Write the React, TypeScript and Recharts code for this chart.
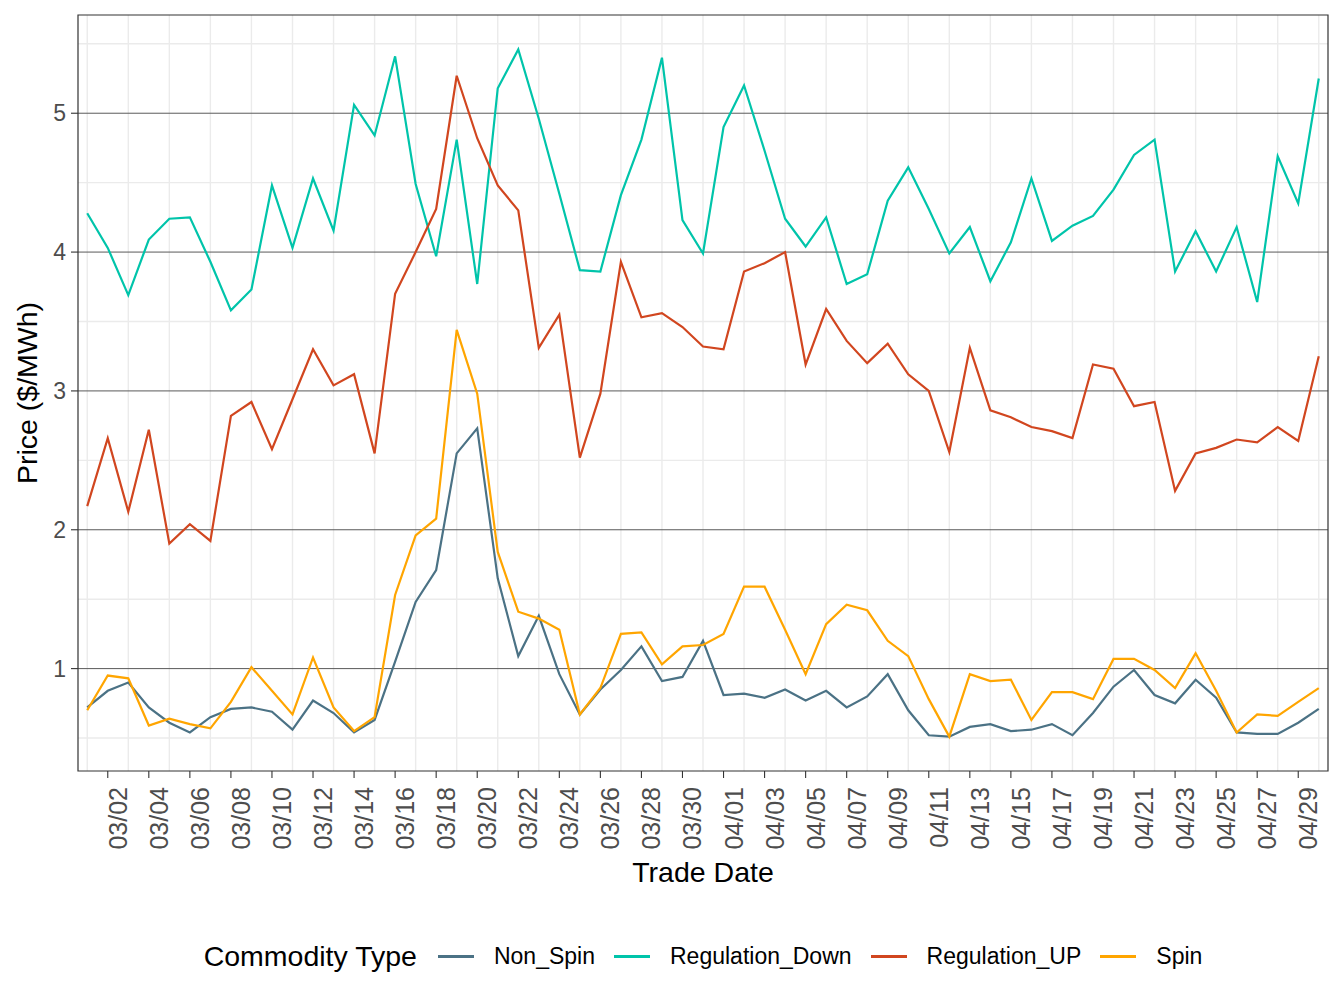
import React from 'react';
import { LineChart, Line, XAxis, YAxis, CartesianGrid, ReferenceArea, Label } from 'recharts';

// Trade dates, 1 March to 30 April
const tradeDates = [
  '03/01', '03/02', '03/03', '03/04', '03/05', '03/06', '03/07', '03/08', '03/09', '03/10',
  '03/11', '03/12', '03/13', '03/14', '03/15', '03/16', '03/17', '03/18', '03/19', '03/20',
  '03/21', '03/22', '03/23', '03/24', '03/25', '03/26', '03/27', '03/28', '03/29', '03/30',
  '03/31', '04/01', '04/02', '04/03', '04/04', '04/05', '04/06', '04/07', '04/08', '04/09',
  '04/10', '04/11', '04/12', '04/13', '04/14', '04/15', '04/16', '04/17', '04/18', '04/19',
  '04/20', '04/21', '04/22', '04/23', '04/24', '04/25', '04/26', '04/27', '04/28', '04/29',
  '04/30',
];

// Daily prices ($/MWh) per commodity type
const nonSpin = [
  0.72, 0.84, 0.90, 0.72, 0.61, 0.54, 0.65, 0.71, 0.72, 0.69,
  0.56, 0.77, 0.68, 0.54, 0.63, 1.05, 1.48, 1.71, 2.55, 2.73,
  1.65, 1.09, 1.38, 0.96, 0.67, 0.85, 0.99, 1.16, 0.91, 0.94,
  1.20, 0.81, 0.82, 0.79, 0.85, 0.77, 0.84, 0.72, 0.80, 0.96,
  0.70, 0.52, 0.51, 0.58, 0.60, 0.55, 0.56, 0.60, 0.52, 0.68,
  0.87, 0.99, 0.81, 0.75, 0.92, 0.79, 0.54, 0.53, 0.53, 0.61,
  0.71,
];

const regulationDown = [
  4.28, 4.03, 3.69, 4.09, 4.24, 4.25, 3.93, 3.58, 3.73, 4.48,
  4.03, 4.53, 4.155, 5.06, 4.84, 5.41, 4.49, 3.97, 4.81, 3.77,
  5.18, 5.46, 4.96, 4.42, 3.87, 3.86, 4.41, 4.81, 5.40, 4.23,
  3.99, 4.90, 5.20, 4.73, 4.24, 4.04, 4.25, 3.77, 3.84, 4.37,
  4.61, 4.31, 3.99, 4.18, 3.79, 4.07, 4.53, 4.08, 4.19, 4.26,
  4.45, 4.70, 4.81, 3.86, 4.15, 3.86, 4.18, 3.64, 4.69, 4.35,
  5.25,
];

const regulationUp = [
  2.17, 2.66, 2.13, 2.72, 1.90, 2.04, 1.92, 2.82, 2.92, 2.58,
  2.94, 3.30, 3.04, 3.12, 2.55, 3.70, 4.00, 4.31, 5.27, 4.82,
  4.48, 4.30, 3.31, 3.55, 2.52, 2.98, 3.93, 3.53, 3.56, 3.46,
  3.32, 3.30, 3.86, 3.92, 4.00, 3.19, 3.59, 3.36, 3.20, 3.34,
  3.12, 3.00, 2.56, 3.31, 2.86, 2.81, 2.74, 2.71, 2.66, 3.19,
  3.16, 2.89, 2.92, 2.28, 2.55, 2.59, 2.65, 2.63, 2.74, 2.64,
  3.25,
];

const spin = [
  0.70, 0.95, 0.93, 0.59, 0.64, 0.60, 0.57, 0.76, 1.01, 0.84,
  0.67, 1.08, 0.72, 0.55, 0.65, 1.53, 1.96, 2.08, 3.44, 2.98,
  1.84, 1.41, 1.36, 1.28, 0.67, 0.86, 1.25, 1.26, 1.03, 1.16,
  1.17, 1.25, 1.59, 1.59, 1.28, 0.96, 1.32, 1.46, 1.42, 1.20,
  1.09, 0.78, 0.51, 0.96, 0.91, 0.92, 0.63, 0.83, 0.83, 0.78,
  1.07, 1.07, 0.99, 0.86, 1.11, 0.84, 0.54, 0.67, 0.66, 0.76,
  0.86,
];

const seriesNames = ['Non_Spin', 'Regulation_Down', 'Regulation_UP', 'Spin'];
const seriesValues = [nonSpin, regulationDown, regulationUp, spin];
const seriesColors = ['#4B7285', '#00C4AA', '#D1461F', '#FFA500'];

const yTicks = [1, 2, 3, 4, 5];
const yMinor = [0.5, 1.5, 2.5, 3.5, 4.5, 5.5];

const rows = tradeDates.map((d, i) => {
  const row: Record<string, number | string> = { idx: i, date: d };
  seriesNames.forEach((name, s) => {
    row[name] = seriesValues[s][i];
  });
  return row;
});

// labelled ticks every other day starting 03/02; light grid on the days between
const xTicks = tradeDates.map((_, i) => i).filter((i) => i % 2 === 1);
const xMinor = tradeDates.map((_, i) => i).filter((i) => i % 2 === 0);

const X_DOMAIN: [number, number] = [-0.45, tradeDates.length - 1 + 0.45];
const Y_DOMAIN: [number, number] = [0.2625, 5.7075];

const FONT = '"Liberation Sans", Arial, Helvetica, sans-serif';
const W = 1344;
const H = 1008;

// vertical date label, hanging to the right of its tick
const DateTick = (props: any) => {
  const { x, y, payload } = props;
  return (
    <text
      transform={`translate(${x + 10},${y}) rotate(-90)`}
      textAnchor="end"
      dy="0.36em"
      fill="#4d4d4d"
      fontSize={25}
      fontFamily={FONT}
    >
      {tradeDates[payload.value]}
    </text>
  );
};

const XTitle = (props: any) => {
  const vb = props.viewBox || {};
  return (
    <text
      x={vb.x + vb.width / 2}
      y={vb.y + 101}
      textAnchor="middle"
      dominantBaseline="central"
      fontSize={28.5}
      fontFamily={FONT}
      fill="#000"
    >
      Trade Date
    </text>
  );
};

const YTitle = (props: any) => {
  const vb = props.viewBox || {};
  const cx = 27;
  const cy = vb.y + vb.height / 2;
  return (
    <text
      transform={`translate(${cx},${cy}) rotate(-90)`}
      textAnchor="middle"
      dominantBaseline="central"
      fontSize={28.5}
      fontFamily={FONT}
      fill="#000"
    >
      Price ($/MWh)
    </text>
  );
};

export default function App() {
  return (
    <div style={{ position: 'absolute', left: 0, top: 0, width: W, height: H, background: '#fff', fontFamily: FONT }}>
      <LineChart width={W} height={H} data={rows} margin={{ top: 15, right: 16, bottom: 100, left: 0 }}>
        <CartesianGrid horizontal={false} verticalValues={xMinor} stroke="#ebebeb" strokeWidth={1.4} />
        <CartesianGrid vertical={false} horizontalValues={yMinor} stroke="#ebebeb" strokeWidth={1.4} />
        <CartesianGrid vertical={false} horizontalValues={yTicks} stroke="#5a5a5a" strokeWidth={1} />
        <XAxis
          dataKey="idx"
          type="number"
          domain={X_DOMAIN}
          allowDataOverflow
          ticks={xTicks}
          interval={0}
          height={137}
          tick={<DateTick />}
          tickSize={7}
          tickMargin={9}
          tickLine={{ stroke: '#333', strokeWidth: 1.1 }}
          axisLine={false}
        >
          <Label content={<XTitle />} />
        </XAxis>
        <YAxis
          type="number"
          domain={Y_DOMAIN}
          allowDataOverflow
          ticks={yTicks}
          width={78}
          tickSize={7}
          tickMargin={5}
          tick={{ fill: '#4d4d4d', fontSize: 23, fontFamily: FONT }}
          tickLine={{ stroke: '#333', strokeWidth: 1.1 }}
          axisLine={false}
        >
          <Label content={<YTitle />} />
        </YAxis>
        {seriesNames.map((name, s) => (
          <Line
            key={name}
            type="linear"
            dataKey={name}
            stroke={seriesColors[s]}
            strokeWidth={2.2}
            dot={false}
            activeDot={false}
            isAnimationActive={false}
          />
        ))}
        <ReferenceArea
          x1={X_DOMAIN[0]}
          x2={X_DOMAIN[1]}
          y1={Y_DOMAIN[0]}
          y2={Y_DOMAIN[1]}
          fill="none"
          stroke="#333"
          strokeWidth={1.2}
          ifOverflow="visible"
        />
      </LineChart>
      <div
        style={{
          position: 'absolute',
          left: 78,
          width: 1250,
          top: 936,
          height: 40,
          display: 'flex',
          alignItems: 'center',
          justifyContent: 'center',
          fontFamily: FONT,
          whiteSpace: 'nowrap',
        }}
      >
        <span style={{ fontSize: 28.5, color: '#000', marginRight: 21 }}>Commodity Type</span>
        {seriesNames.map((name, s) => (
          <span key={name} style={{ display: 'flex', alignItems: 'center', marginRight: s < seriesNames.length - 1 ? 19 : 0 }}>
            <span style={{ display: 'inline-block', width: 36, height: 3, background: seriesColors[s], marginRight: 20 }} />
            <span style={{ fontSize: 23, color: '#000' }}>{name}</span>
          </span>
        ))}
      </div>
    </div>
  );
}
